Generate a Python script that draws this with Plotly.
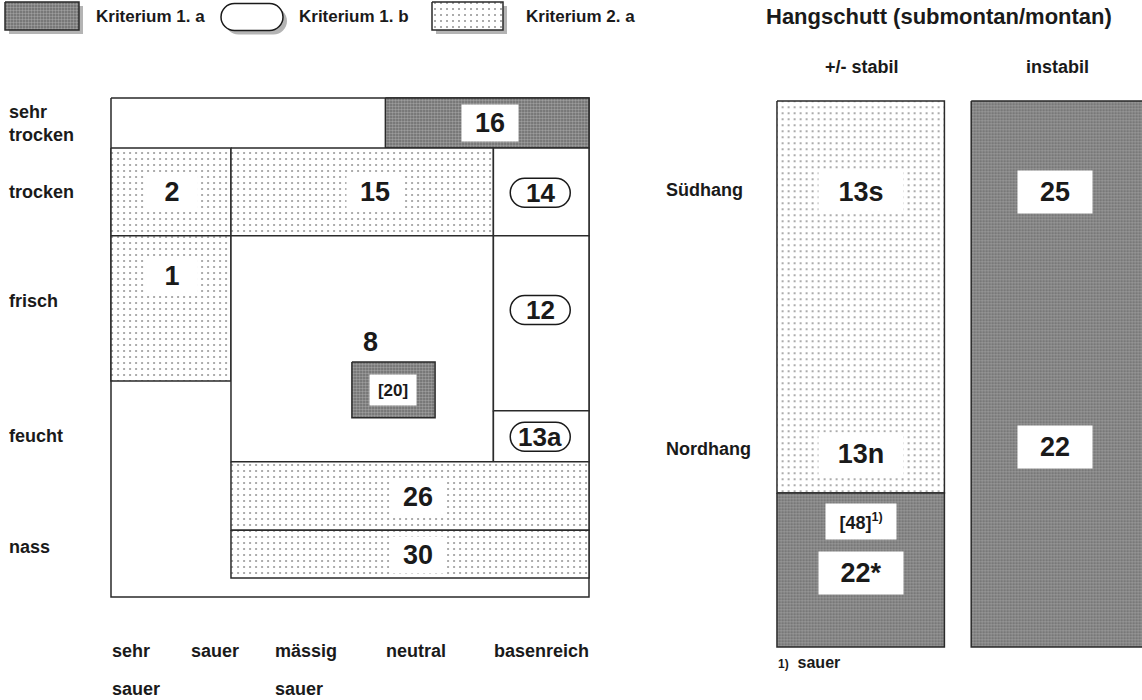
import plotly.graph_objects as go

W, H = 1142, 700
FONT = "Liberation Sans"
INK = "#1a1a1a"

# ---------------- data: ecogram (acidity units 0-5, moisture units 0-10) ----------------
moisture_labels = ["sehr<br>trocken", "trocken", "frisch", "feucht", "nass"]
moisture_pos = [0.51, 1.88, 4.07, 6.77, 9.0]
acid_line1 = ["sehr", "sauer", "mässig", "neutral", "basenreich"]
acid_line2 = ["sauer", "", "sauer", "", ""]
acid_pos = [0.0, 0.83, 1.70, 2.87, 4.0]

unit_names = ["16", "2", "15", "14", "1", "8", "12", "13a", "26", "30", "[20]"]
unit_x0 = [2.87, 0.0, 1.255, 4.0, 0.0, 1.255, 4.0, 4.0, 1.255, 1.255, 2.52]
unit_x1 = [5.0, 1.255, 4.0, 5.0, 1.255, 4.0, 5.0, 5.0, 5.0, 5.0, 3.39]
unit_y0 = [0.0, 1.0, 1.0, 1.0, 2.76, 2.76, 2.76, 6.27, 7.29, 8.66, 5.29]
unit_y1 = [1.0, 2.76, 2.76, 2.76, 5.67, 7.29, 6.27, 7.29, 8.66, 9.62, 6.41]
unit_crit = ["1a", "2a", "2a", "1b", "2a", "-", "1b", "1b", "2a", "2a", "1a"]
unit_lx = [3.96, 0.64, 2.76, 4.49, 0.64, 2.71, 4.49, 4.49, 3.21, 3.21, 2.95]
unit_ly = [0.5, 1.88, 1.88, 1.90, 3.57, 4.89, 4.25, 6.79, 8.0, 9.16, 5.85]

# ---------------- data: Hangschutt panel ----------------
slope_cols = ["+/- stabil", "instabil"]
slope_col_pos = [0.5, 1.66]
slope_rows = ["Südhang", "Nordhang"]
slope_row_pos = [0.163, 0.637]
slope_x0 = [0.0, 0.0, 1.16]
slope_x1 = [1.0, 1.0, 2.3]
slope_y0 = [0.0, 0.718, 0.0]
slope_y1 = [0.718, 1.0, 1.0]
slope_crit = ["2a", "1a", "1a"]
slope_labels = ["13s", "13n", "[48]<sup>1)</sup>", "22*", "25", "22"]
slope_lx = [0.5, 0.5, 0.5, 0.5, 1.66, 1.66]
slope_ly = [0.167, 0.646, 0.771, 0.864, 0.167, 0.634]

legend_names = ["Kriterium 1. a", "Kriterium 1. b", "Kriterium 2. a"]

# ---------------- styles ----------------
PAT = {
    "1a": dict(fillcolor="#8a8a8a",
               fillpattern=dict(shape=".", size=3, solidity=0.5,
                                fgcolor="#d2d2d2", bgcolor="#6a6a6a")),
    "2a": dict(fillcolor="white",
               fillpattern=dict(shape=".", size=6, solidity=0.09,
                                fgcolor="#222222", bgcolor="white")),
    "1b": dict(fillcolor="white", fillpattern=None),
    "-": dict(fillcolor="white", fillpattern=None),
    "sh": dict(fillcolor="#b4b4b4", fillpattern=None),
}

# axis geometry (pixel placement of each panel)
AX = {
    "x": dict(px=(111, 589), rng=(0.0, 5.0), pad=0.02),
    "y": dict(px=(98, 597), rng=(0.0, 10.0), pad=0.04),
    "x2": dict(px=(777, 777 + 169 * 2.16), rng=(0.0, 2.16), pad=0.02),
    "y2": dict(px=(101, 647), rng=(0.0, 1.0), pad=0.005),
}


def ax_geom(name):
    a = AX[name]
    p0, p1 = a["px"]
    r0, r1 = a["rng"]
    s = (p1 - p0) / (r1 - r0)
    rp0, rp1 = r0 - a["pad"], r1 + a["pad"]
    return s, p0 - a["pad"] * s, p1 + a["pad"] * s, rp0, rp1


def to_paper(name, u):
    a = AX[name]
    p0, p1 = a["px"]
    r0, r1 = a["rng"]
    px = p0 + (u - r0) * (p1 - p0) / (r1 - r0)
    return px / W if name.startswith("x") else 1 - px / H


fig = go.Figure()


def rect(x0, x1, y0, y1, crit, xa, ya, lw=1.5, line="#2a2a2a"):
    st = PAT[crit]
    kw = dict(x=[x0, x1, x1, x0, x0], y=[y0, y0, y1, y1, y0], mode="lines",
              fill="toself", fillcolor=st["fillcolor"],
              line=dict(color=line, width=lw), hoverinfo="skip",
              showlegend=False, xaxis=xa, yaxis=ya)
    if st["fillpattern"]:
        kw["fillpattern"] = st["fillpattern"]
    fig.add_trace(go.Scatter(**kw))


def oval_path(w, h):
    r = h / 2
    a = w / 2 - r
    k = 0.5523 * r
    return (f"M {-a},{-r} L {a},{-r} C {a + k},{-r} {a + r},{-k} {a + r},0 "
            f"C {a + r},{k} {a + k},{r} {a},{r} L {-a},{r} "
            f"C {-a - k},{r} {-a - r},{k} {-a - r},0 C {-a - r},{-k} {-a - k},{-r} {-a},{-r} Z")


shapes = []
annotations = []


def oval(xa, ya, xref, yref, w, h, fill="white", line=INK, lw=1.5):
    shapes.append(dict(type="path", xref=xref, yref=yref, xsizemode="pixel",
                       ysizemode="pixel", xanchor=xa, yanchor=ya,
                       path=oval_path(w, h), fillcolor=fill,
                       line=dict(color=line, width=lw), layer="above"))


def label(text, x, y, xref, yref, size=27, bg=None, w=None, h=None,
          xanchor="center", bold=True, color=INK):
    d = dict(text=f"<b>{text}</b>" if bold else text, x=x, y=y, xref=xref,
             yref=yref, showarrow=False, xanchor=xanchor, yanchor="middle",
             align="left" if xanchor == "left" else "center",
             font=dict(family=FONT, size=size, color=color), borderpad=0)
    if bg:
        d["bgcolor"] = bg
    if w:
        d["width"] = w
    if h:
        d["height"] = h
    annotations.append(d)


# ---------------- ecogram ----------------
rect(0, 5, 0, 10, "-", "x", "y")
for i in range(len(unit_names)):
    rect(unit_x0[i], unit_x1[i], unit_y0[i], unit_y1[i], unit_crit[i], "x", "y")

for i, name in enumerate(unit_names):
    c = unit_crit[i]
    if c == "1b":
        oval(unit_lx[i], unit_ly[i], "x", "y", 60, 29)
        label(name, unit_lx[i], unit_ly[i], "x", "y", size=26)
    elif c == "-":
        label(name, unit_lx[i], unit_ly[i], "x", "y", size=27)
    elif name.startswith("["):
        label(name, unit_lx[i], unit_ly[i], "x", "y", size=17, bg="white", w=46, h=30)
    else:
        label(name, unit_lx[i], unit_ly[i], "x", "y", size=27, bg="white",
              w=50 if len(name) == 1 else 56, h=36)

for t, yv in zip(moisture_labels, moisture_pos):
    label(t, 8 / W, to_paper("y", yv), "paper", "paper", size=18, xanchor="left")

for t1, t2, xv in zip(acid_line1, acid_line2, acid_pos):
    label(t1, to_paper("x", xv), 1 - 651 / H, "paper", "paper", size=18, xanchor="left")
    if t2:
        label(t2, to_paper("x", xv), 1 - 689 / H, "paper", "paper", size=18,
              xanchor="left")

# ---------------- Hangschutt panel ----------------
for i in range(len(slope_crit)):
    rect(slope_x0[i], slope_x1[i], slope_y0[i], slope_y1[i], slope_crit[i], "x2", "y2")

for t, xv, yv in zip(slope_labels, slope_lx, slope_ly):
    if t.startswith("["):
        label(t, xv, yv, "x2", "y2", size=18, bg="white", w=70, h=35)
    else:
        label(t, xv, yv, "x2", "y2", size=27, bg="white",
              w=84 if len(t) == 3 else 74, h=42)

for t, xv in zip(slope_cols, slope_col_pos):
    label(t, to_paper("x2", xv), 1 - 67 / H, "paper", "paper", size=18)
for t, yv in zip(slope_rows, slope_row_pos):
    label(t, 665 / W, to_paper("y2", yv), "paper", "paper", size=18, xanchor="left")

label("<span style='font-size:12px'>1)</span>  sauer", to_paper("x2", 0.0),
      1 - 662 / H, "paper", "paper", size=16, xanchor="left")
label("Hangschutt (submontan/montan)", 765 / W, 1 - 16 / H, "paper", "paper",
      size=22, xanchor="left")

# ---------------- legend (drawn on a pixel canvas) ----------------
rect(9, 83, 6, 34, "sh", "x3", "y3", lw=0, line="#b4b4b4")
rect(5, 79, 2, 30, "1a", "x3", "y3", lw=1.5)
oval(256, 21, "x3", "y3", 62, 27, fill="#b4b4b4", line="#b4b4b4", lw=0)
oval(252, 17, "x3", "y3", 62, 27)
rect(436, 507, 6, 34, "sh", "x3", "y3", lw=0, line="#b4b4b4")
rect(432, 503, 2, 30, "2a", "x3", "y3", lw=1.5)
for t, xv in zip(legend_names, [95, 298, 525]):
    label(t, xv, 16, "x3", "y3", size=17, xanchor="left")

hid = dict(visible=False, showgrid=False, zeroline=False, fixedrange=True)
layout_axes = {}
for name, anchor in [("x", "y"), ("y", "x"), ("x2", "y2"), ("y2", "x2")]:
    s, d0, d1, r0, r1 = ax_geom(name)
    key = ("xaxis" if name.startswith("x") else "yaxis") + name[1:]
    if name.startswith("x"):
        layout_axes[key] = dict(hid, domain=[d0 / W, min(d1 / W, 1.0)],
                                range=[r0, r1], anchor=anchor)
    else:
        layout_axes[key] = dict(hid, domain=[1 - d1 / H, 1 - d0 / H],
                                range=[r1, r0], anchor=anchor)

fig.update_layout(
    width=W, height=H, margin=dict(l=0, r=0, t=0, b=0),
    paper_bgcolor="white", plot_bgcolor="rgba(0,0,0,0)", showlegend=False,
    xaxis3=dict(hid, domain=[0, 1], range=[0, W], anchor="y3"),
    yaxis3=dict(hid, domain=[0, 1], range=[H, 0], anchor="x3"),
    shapes=shapes, annotations=annotations, **layout_axes,
)

fig.write_html("out.html", config={"displayModeBar": False},
               post_script="document.body.style.margin='0';"
                           "document.body.style.overflow='hidden';")
